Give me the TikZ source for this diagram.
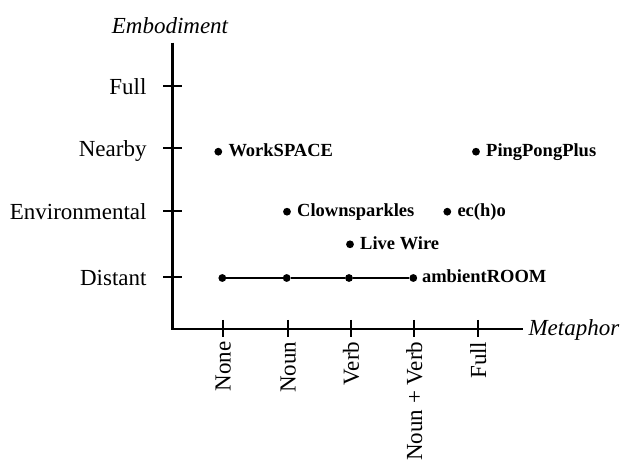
\documentclass[tikz,border=0pt]{standalone}
\usepackage{fontspec}
\setmainfont{Liberation Serif}
\begin{document}
\begin{tikzpicture}[x=1pt,y=-1pt,
  axis/.style={line width=2.2pt},
  tick/.style={line width=2.1pt},
  ylab/.style={anchor=base east, inner sep=0pt, font=\fontsize{23}{27}\selectfont},
  xlab/.style={anchor=east, rotate=90, inner sep=0pt, font=\fontsize{23}{27}\selectfont},
  title/.style={inner sep=0pt, font=\fontsize{23}{27}\selectfont\itshape},
  dot/.style={circle, fill=black, inner sep=0pt, minimum size=7.8pt},
  lbl/.style={anchor=base west, inner sep=0pt, xshift=10pt, yshift=-5pt, font=\fontsize{18.5}{22}\selectfont\bfseries},
  link/.style={line width=2pt}]
\useasboundingbox (0,0) rectangle (622,465);
% axes
\coordinate (ytop) at (172.5,42.7);
\coordinate (origin) at (172.5,328.7);
\coordinate (xend) at (523.3,328.7);
\draw[axis] (ytop) -- (origin) -- (xend);
% titles
\node[title, anchor=base] (emb) at (170,33.3) {Embodiment};
\node[title, anchor=base west] (met) at (528.3,335.3) {Metaphor};
% y ticks
\foreach \n/\y/\t in {yfull/85.7/Full, ynear/147.7/Nearby, yenv/211/Environmental, ydist/277/Distant}{
  \draw[tick] (163.3,\y) -- (181.7,\y);
  \node[ylab] (\n) at (146.7,\y+8.5) {\t};
}
% x ticks
\foreach \n/\x/\t in {xnone/223.3/None, xnoun/288.3/Noun, xverb/351/Verb, xnv/414.3/Noun + Verb, xfull/478.3/Full}{
  \draw[tick] (\x,320) -- (\x,337);
  \node[xlab] (\n) at (\x,341.5) {\t};
}
% points
\node[dot] (ws) at (218.3,151.7) {};
\node[lbl] (wsl) at (ws) {WorkSPACE};
\node[dot] (pp) at (476,151.7) {};
\node[lbl] (ppl) at (pp) {PingPongPlus};
\node[dot] (cs) at (287,211.7) {};
\node[lbl] (csl) at (cs) {Clownsparkles};
\node[dot] (ec) at (447.3,211.7) {};
\node[lbl] (ecl) at (ec) {ec(h)o};
\node[dot] (lw) at (350,244.3) {};
\node[lbl] (lwl) at (lw) {Live Wire};
\node[dot] (a1) at (222.3,278) {};
\node[dot] (a2) at (286.7,278) {};
\node[dot] (a3) at (349,278) {};
\node[dot] (a4) at (413.3,278) {};
\node[lbl, xshift=-1.5pt] (al) at (a4) {ambientROOM};
\draw[link] (a1) -- (a2) -- (a3) -- (a4);
\end{tikzpicture}
\end{document}
